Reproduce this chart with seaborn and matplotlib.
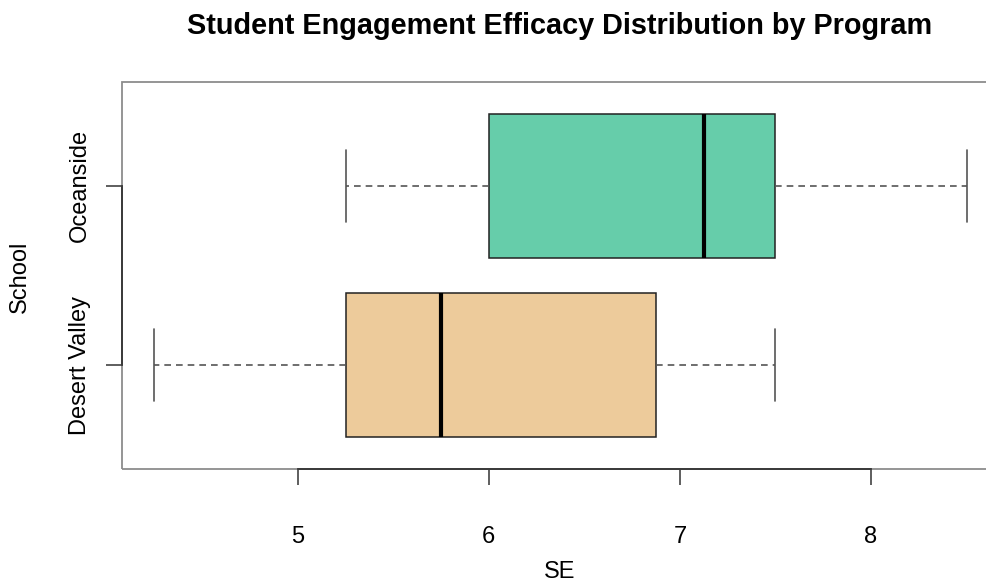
import matplotlib
matplotlib.use("Agg")
import matplotlib.pyplot as plt
import matplotlib.patches as mpatches
import pandas as pd
import seaborn as sns

# Werte (Min, Q1, Median, Q3, Max je Schule)
schools = ["Oceanside", "Desert Valley"]
oceanside_se = [5.25, 6.0, 7.125, 7.5, 8.5]
desert_valley_se = [4.25, 5.25, 5.75, 6.875, 7.5]
school_colors = ["#66CDAA", "#EDCB9B"]
x_ticks = [5, 6, 7, 8]

df = pd.DataFrame({
    "School": ["Oceanside"] * len(oceanside_se) + ["Desert Valley"] * len(desert_valley_se),
    "SE": oceanside_se + desert_valley_se,
})

sns.set_theme(style="white")
plt.rcParams["font.family"] = ["Liberation Sans", "DejaVu Sans"]
plt.rcParams["text.color"] = "black"

fig = plt.figure(figsize=(9.87, 5.85), dpi=100)
ax = fig.add_axes([0.1236, 0.1983, 0.8886, 0.6615])

sns.boxplot(
    data=df, x="SE", y="School", hue="School", order=schools, hue_order=schools,
    palette=school_colors, saturation=1, legend=False, width=0.8, whis=(0, 100),
    linecolor="#222222", linewidth=1.1, ax=ax,
    whiskerprops=dict(color="#555555", linestyle=(0, (4, 3)), linewidth=1.2),
    capprops=dict(color="#555555", linewidth=1.2),
    medianprops=dict(color="black", linewidth=3),
)

ax.set_xlim(4.08, 8.67)
ax.set_ylim(1.58, -0.58)
ax.set_xticks(x_ticks)
ax.set_xticklabels([str(t) for t in x_ticks])
ax.set_yticks([0, 1])
ax.set_yticklabels(schools)
plt.setp(ax.get_yticklabels(), rotation=90, va="center")
ax.set_xlabel("")
ax.set_ylabel("")

# Rahmen grau, Achsenlinien nur zwischen den Ticks
for side in ["top", "right"]:
    ax.spines[side].set_visible(False)
ax.spines["bottom"].set_bounds(x_ticks[0], x_ticks[-1])
ax.spines["left"].set_bounds(0, 1)
for side in ["bottom", "left"]:
    ax.spines[side].set_color("#333333")
    ax.spines[side].set_linewidth(1.3)
    ax.spines[side].set_zorder(5)
ax.add_patch(mpatches.Rectangle((0, 0), 1, 1, transform=ax.transAxes, fill=False,
                                edgecolor="#8c8c8c", linewidth=1.3, clip_on=False, zorder=4))

ax.tick_params(axis="both", bottom=True, left=True, direction="out", length=11.5,
               width=1.1, color="#333333", labelsize=17, labelcolor="black")
ax.tick_params(axis="x", pad=29.5)
ax.tick_params(axis="y", pad=11)

fig.text(560 / 987, 1 - 26 / 585, "Student Engagement Efficacy Distribution by Program",
         ha="center", va="center", fontsize=20.8, fontweight="bold", color="black")
fig.text(560 / 987, 1 - 572 / 585, "SE", ha="center", va="center", fontsize=17, color="black")
fig.text(20 / 987, 1 - 277 / 585, "School", ha="center", va="center", fontsize=17,
         rotation=90, color="black")

plt.savefig("out.png", dpi=100)
